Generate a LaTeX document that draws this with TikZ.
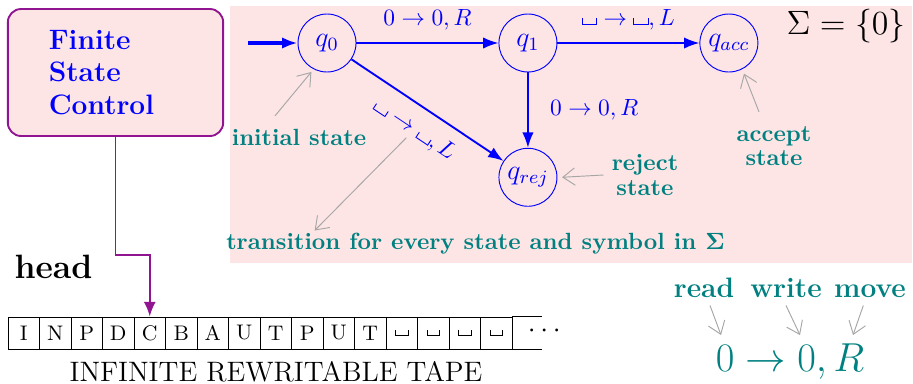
\documentclass[tikz,border=0pt]{standalone}
\usepackage{amsmath,amssymb}
\usetikzlibrary{positioning, arrows.meta}

\definecolor{bgpink}{RGB}{253,229,229}
\definecolor{ctrlpurple}{RGB}{145,20,145}
\newcommand{\blnk}{\mbox{\rule{0.04em}{0.28em}\rule{0.56em}{0.04em}\rule{0.04em}{0.28em}}}

\begin{document}
\begin{tikzpicture}[node distance=2.13cm]
		% Estilos del diagrama
		\tikzset{
			state/.style={
					circle, draw=blue, text=blue,
					minimum size=0.87cm, inner sep=0pt, font=\large
				},
			edge/.style={
					draw=blue, thick, -{Latex[length=2.3mm,width=1.7mm]}
				},
			edge label/.style={
					text=blue, font=\normalsize
				},
			note/.style={
					text=teal, align=center,
					font=\fontsize{10pt}{10.5pt}\selectfont\bfseries
				},
			pointer/.style={
					draw=black!35, thin, -{Straight Barb[length=1.8mm,width=2.6mm]}
				},
			cell/.style={
					draw, minimum width=0.4725cm, minimum height=0.48cm,
					inner sep=0pt, font=\small
				},
			control/.style={
					rectangle, rounded corners=0.2cm, draw=ctrlpurple, thick, fill=bgpink,
					text=blue, font=\large\bfseries, text width=2cm, inner xsep=0.615cm,
					minimum height=1.905cm, align=left
				}
		}
		\useasboundingbox (0,0) rectangle (13.695,-5.745);

		% Fondo del diagrama de estados
		\fill[bgpink] (3.45,-0.09) rectangle (13.68,-3.945);

		% Control de estados finitos y cinta
		\node[control] (fsc) at (1.7325,-1.0875) {Finite\\State\\Control};
		\node[font=\Large\bfseries, anchor=base] (head) at (0.8025,-4.17) {head};
		\foreach \sym [count=\i] in {I,N,P,D,C,B,A,U,T,P,U,T,\blnk,\blnk,\blnk,\blnk}
			\node[cell] (c\i) at ({0.35625+(\i-1)*0.4725},-4.995) {\sym};
		\draw (c16.north east) -- ++(0.45,0);
		\draw (c16.south east) -- ++(0.45,0);
		\node (dots) at (8.2,-4.97) {\large$\cdots$};
		\node[font=\large, anchor=base] (caption) at (4.14,-5.715) {INFINITE REWRITABLE TAPE};
		\draw[ctrlpurple, thick, -{Latex[length=2.2mm,width=1.8mm]}] (fsc.south) -- ++(0,-1.77) -| (c5.north);

		% Estados
		\node[state] (q0) at (4.905,-0.645) {$q_0$};
		\node[state, right=of q0] (q1) {$q_1$};
		\node[state, right=of q1] (qacc) {$q_{acc}$};
		\node[state, below=1.13cm of q1] (qrej) {$q_{rej}$};
		\coordinate (start) at (3.72,-0.645);

		% Transiciones
		\draw[edge, ultra thick] (start) -- (q0);
		\draw[edge] (q0) -- node[edge label, above=0.7mm] {$0 \rightarrow 0, R$} (q1);
		\draw[edge] (q1) -- node[edge label, above=0.7mm] {$\blnk \rightarrow \blnk, L$} (qacc);
		\draw[edge] (q1) -- node[edge label, right=2mm] {$0 \rightarrow 0, R$} (qrej);
		\draw[edge] (q0) -- node[edge label, sloped, below=2pt] (lbl02) {$\blnk \rightarrow \blnk, L$} (qrej);
		\node (sigma) at (12.69,-0.39) {\fontsize{13.5pt}{16pt}\selectfont $\Sigma = \{0\}$};

		% Notas
		\node[note] (initlbl) at (4.485,-2.055) {initial state};
		\node[note] (translbl) at (7.1325,-3.66) {transition for every state and symbol in $\boldsymbol{\Sigma}$};
		\node[note] (rejlbl) at (9.675,-2.625) {reject\\state};
		\node[note] (acclbl) at (11.61,-2.19) {accept\\state};
		\draw[pointer, shorten >=1.5pt] (initlbl.north) ++(-0.36,0.07) -- (q0.243);
		\draw[pointer] (lbl02.south) ++(0.04,0.12) -- ([xshift=1.45cm,yshift=-0.08cm]translbl.north west);
		\draw[pointer] (rejlbl.west) -- ([xshift=2pt]qrej.east);
		\draw[pointer, shorten >=2pt] (acclbl.north) ++(-0.225,0.09) -- (qacc.-63);

		% Leer, escribir, mover
		\node[text=teal, font=\LARGE, anchor=base] (rule) at (11.85,-5.565) {$0 \rightarrow 0, R$};
		\foreach \w/\x in {read/10.56, write/11.79, move/13.05}
			\node[note, font=\large\bfseries, anchor=base] (\w) at (\x,-4.455) {\w};
		\draw[pointer] ([xshift=0.09cm]read.south) -- ([xshift=-1.035cm]rule.north);
		\draw[pointer] (write.south) -- ([xshift=0.15cm]rule.north);
		\draw[pointer] ([xshift=-0.1cm]move.south) -- ([xshift=0.945cm]rule.north);
	\end{tikzpicture}
\end{document}
